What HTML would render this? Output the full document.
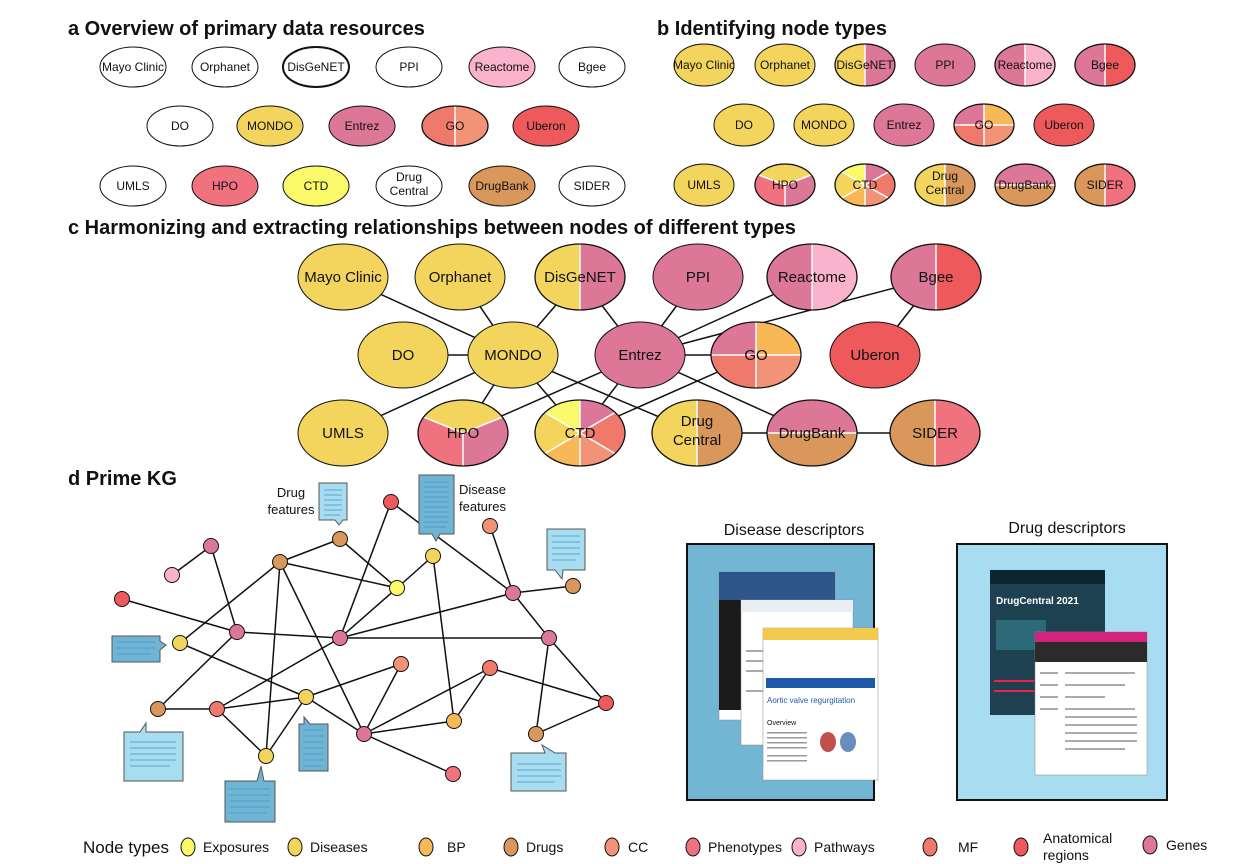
<!DOCTYPE html>
<html><head><meta charset="utf-8"><style>
html,body{margin:0;padding:0;background:#fff}
svg{display:block}
text{font-family:"Liberation Sans",Arial,sans-serif;fill:#111}
.t{font-weight:bold;font-size:20px}
.n{stroke:#111;stroke-width:1}
.w{stroke:#fff;stroke-width:1.5;vector-effect:non-scaling-stroke;fill:none}
.o{fill:none;stroke:#111;stroke-width:1.3;vector-effect:non-scaling-stroke}
.e line{stroke:#111;stroke-width:1.5}
</style></head><body>
<svg width="1259" height="864" viewBox="0 0 1259 864" xmlns="http://www.w3.org/2000/svg">
<defs>
<clipPath id="u"><circle cx="0" cy="0" r="1"/></clipPath>
</defs>
<!-- titles -->
<text class="t" x="68" y="35">a Overview of primary data resources</text>
<text class="t" x="657" y="35">b Identifying node types</text>
<text class="t" x="68" y="234">c Harmonizing and extracting relationships between nodes of different types</text>
<text class="t" x="68" y="485">d Prime KG</text>

<!-- Panel a -->
<g font-size="12" text-anchor="middle">
<g class="n" fill="#fff">
<ellipse cx="133" cy="67" rx="33" ry="20"/><ellipse cx="225" cy="67" rx="33" ry="20"/><ellipse cx="316" cy="67" rx="33" ry="20" stroke-width="2"/><ellipse cx="409" cy="67" rx="33" ry="20"/><ellipse cx="502" cy="67" rx="33" ry="20" fill="#fbb2cc"/><ellipse cx="592" cy="67" rx="33" ry="20"/>
<ellipse cx="180" cy="126" rx="33" ry="20"/><ellipse cx="270" cy="126" rx="33" ry="20" fill="#f3d55e"/><ellipse cx="362" cy="126" rx="33" ry="20" fill="#dd7798"/><ellipse cx="546" cy="126" rx="33" ry="20" fill="#ee5a5b"/>
<ellipse cx="133" cy="186" rx="33" ry="20"/><ellipse cx="225" cy="186" rx="33" ry="20" fill="#f1727f"/><ellipse cx="316" cy="186" rx="33" ry="20" fill="#f9f96a"/><ellipse cx="409" cy="186" rx="33" ry="20"/><ellipse cx="502" cy="186" rx="33" ry="20" fill="#d9975c"/><ellipse cx="592" cy="186" rx="33" ry="20"/>
</g>
<g transform="translate(455,126) scale(33,20)"><g clip-path="url(#u)"><rect x="-2" y="-2" width="2" height="4" fill="#ef7a6c"/><rect x="0" y="-2" width="2" height="4" fill="#f29378"/></g><line class="w" x1="0" y1="-1" x2="0" y2="1"/><circle r="1" class="o"/></g>
<text x="133" y="71">Mayo Clinic</text><text x="225" y="71">Orphanet</text><text x="316" y="71">DisGeNET</text><text x="409" y="71">PPI</text><text x="502" y="71">Reactome</text><text x="592" y="71">Bgee</text>
<text x="180" y="130">DO</text><text x="270" y="130">MONDO</text><text x="362" y="130">Entrez</text><text x="455" y="130">GO</text><text x="546" y="130">Uberon</text>
<text x="133" y="190">UMLS</text><text x="225" y="190">HPO</text><text x="316" y="190">CTD</text><text x="409" y="181">Drug</text><text x="409" y="195">Central</text><text x="502" y="190">DrugBank</text><text x="592" y="190">SIDER</text>
</g>

<!-- Panel b -->
<g font-size="12" text-anchor="middle">
<g class="n">
<ellipse cx="704" cy="65" rx="30" ry="21" fill="#f3d55e"/><ellipse cx="785" cy="65" rx="30" ry="21" fill="#f3d55e"/><ellipse cx="945" cy="65" rx="30" ry="21" fill="#dd7798"/>
<ellipse cx="744" cy="125" rx="30" ry="21" fill="#f3d55e"/><ellipse cx="824" cy="125" rx="30" ry="21" fill="#f3d55e"/><ellipse cx="904" cy="125" rx="30" ry="21" fill="#dd7798"/><ellipse cx="1064" cy="125" rx="30" ry="21" fill="#ee5a5b"/>
<ellipse cx="704" cy="185" rx="30" ry="21" fill="#f3d55e"/>
</g>
<!-- DisGeNET -->
<g transform="translate(865,65) scale(30,21)"><g clip-path="url(#u)"><rect x="-2" y="-2" width="2" height="4" fill="#f3d55e"/><rect x="0" y="-2" width="2" height="4" fill="#dd7798"/></g><line class="w" x1="0" y1="-1" x2="0" y2="1"/><circle r="1" class="o"/></g>
<g transform="translate(1025,65) scale(30,21)"><g clip-path="url(#u)"><rect x="-2" y="-2" width="2" height="4" fill="#dd7798"/><rect x="0" y="-2" width="2" height="4" fill="#fbb2cc"/></g><line class="w" x1="0" y1="-1" x2="0" y2="1"/><circle r="1" class="o"/></g>
<g transform="translate(1105,65) scale(30,21)"><g clip-path="url(#u)"><rect x="-2" y="-2" width="2" height="4" fill="#dd7798"/><rect x="0" y="-2" width="2" height="4" fill="#ee5a5b"/></g><line class="w" x1="0" y1="-1" x2="0" y2="1"/><circle r="1" class="o"/></g>
<g transform="translate(984,125) scale(30,21)"><g clip-path="url(#u)"><rect x="-2" y="-2" width="2" height="2" fill="#dd7798"/><rect x="0" y="-2" width="2" height="2" fill="#f8b857"/><rect x="-2" y="0" width="2" height="2" fill="#ef7a6c"/><rect x="0" y="0" width="2" height="2" fill="#f29378"/></g><line class="w" x1="0" y1="-1" x2="0" y2="1"/><line class="w" x1="-1" y1="0" x2="1" y2="0"/><circle r="1" class="o"/></g>
<g transform="translate(785,185) scale(30,21)"><g clip-path="url(#u)"><polygon points="0,0 -2,-1.1 -2,-2 2,-2 2,-1.1" fill="#f3d55e"/><polygon points="0,0 -2,-1.1 -2,2 0,2" fill="#f1727f"/><polygon points="0,0 0,2 2,2 2,-1.1" fill="#dd7798"/><line class="w" x1="0" y1="0" x2="-2" y2="-1.1"/><line class="w" x1="0" y1="0" x2="2" y2="-1.1"/><line class="w" x1="0" y1="0" x2="0" y2="2"/></g><circle r="1" class="o"/></g>
<g transform="translate(865,185) scale(30,21)"><g clip-path="url(#u)"><polygon points="0,0 0,-2 -2,-2 -2,-1.6" fill="#f9f96a"/><polygon points="0,0 0,-2 2,-2 2,-1.6" fill="#dd7798"/><polygon points="0,0 -2,-1.6 -2,1.6" fill="#f3d55e"/><polygon points="0,0 2,-1.6 2,1.6" fill="#ef7a6c"/><polygon points="0,0 -2,1.6 -2,2 0,2" fill="#f8b857"/><polygon points="0,0 2,1.6 2,2 0,2" fill="#f29378"/><line class="w" x1="0" y1="-2" x2="0" y2="2"/><line class="w" x1="-2" y1="-1.6" x2="2" y2="1.6"/><line class="w" x1="2" y1="-1.6" x2="-2" y2="1.6"/></g><circle r="1" class="o"/></g>
<g transform="translate(945,185) scale(30,21)"><g clip-path="url(#u)"><rect x="-2" y="-2" width="2" height="4" fill="#f3d55e"/><rect x="0" y="-2" width="2" height="4" fill="#d9975c"/></g><line class="w" x1="0" y1="-1" x2="0" y2="1"/><circle r="1" class="o"/></g>
<g transform="translate(1025,185) scale(30,21)"><g clip-path="url(#u)"><rect x="-2" y="-2" width="4" height="2" fill="#dd7798"/><rect x="-2" y="0" width="4" height="2" fill="#d9975c"/></g><line class="w" x1="-1" y1="0" x2="1" y2="0"/><circle r="1" class="o"/></g>
<g transform="translate(1105,185) scale(30,21)"><g clip-path="url(#u)"><rect x="-2" y="-2" width="2" height="4" fill="#d9975c"/><rect x="0" y="-2" width="2" height="4" fill="#f1727f"/></g><line class="w" x1="0" y1="-1" x2="0" y2="1"/><circle r="1" class="o"/></g>
<text x="704" y="69">Mayo Clinic</text><text x="785" y="69">Orphanet</text><text x="865" y="69">DisGeNET</text><text x="945" y="69">PPI</text><text x="1025" y="69">Reactome</text><text x="1105" y="69">Bgee</text>
<text x="744" y="129">DO</text><text x="824" y="129">MONDO</text><text x="904" y="129">Entrez</text><text x="984" y="129">GO</text><text x="1064" y="129">Uberon</text>
<text x="704" y="189">UMLS</text><text x="785" y="189">HPO</text><text x="865" y="189">CTD</text><text x="945" y="180">Drug</text><text x="945" y="194">Central</text><text x="1025" y="189">DrugBank</text><text x="1105" y="189">SIDER</text>
</g>

<!-- Panel c edges -->
<g class="e">
<line x1="343" y1="277" x2="513" y2="355"/><line x1="460" y1="277" x2="513" y2="355"/><line x1="580" y1="277" x2="513" y2="355"/><line x1="580" y1="277" x2="640" y2="355"/>
<line x1="698" y1="277" x2="640" y2="355"/><line x1="812" y1="277" x2="640" y2="355"/><line x1="936" y1="277" x2="640" y2="355"/><line x1="936" y1="277" x2="875" y2="355"/>
<line x1="403" y1="355" x2="513" y2="355"/><line x1="640" y1="355" x2="756" y2="355"/>
<line x1="513" y1="355" x2="343" y2="433"/><line x1="513" y1="355" x2="463" y2="433"/><line x1="513" y1="355" x2="580" y2="433"/><line x1="513" y1="355" x2="697" y2="433"/>
<line x1="640" y1="355" x2="463" y2="433"/><line x1="640" y1="355" x2="580" y2="433"/><line x1="640" y1="355" x2="812" y2="433"/><line x1="756" y1="355" x2="580" y2="433"/>
<line x1="697" y1="433" x2="935" y2="433"/>
</g>
<!-- Panel c nodes -->
<g font-size="15" text-anchor="middle">
<g class="n" stroke-width="1.3">
<ellipse cx="343" cy="277" rx="45" ry="33" fill="#f3d55e"/><ellipse cx="460" cy="277" rx="45" ry="33" fill="#f3d55e"/><ellipse cx="698" cy="277" rx="45" ry="33" fill="#dd7798"/>
<ellipse cx="403" cy="355" rx="45" ry="33" fill="#f3d55e"/><ellipse cx="513" cy="355" rx="45" ry="33" fill="#f3d55e"/><ellipse cx="640" cy="355" rx="45" ry="33" fill="#dd7798"/><ellipse cx="875" cy="355" rx="45" ry="33" fill="#ee5a5b"/>
<ellipse cx="343" cy="433" rx="45" ry="33" fill="#f3d55e"/>
</g>
<g transform="translate(580,277) scale(45,33)"><g clip-path="url(#u)"><rect x="-2" y="-2" width="2" height="4" fill="#f3d55e"/><rect x="0" y="-2" width="2" height="4" fill="#dd7798"/></g><line class="w" x1="0" y1="-1" x2="0" y2="1"/><circle r="1" class="o"/></g>
<g transform="translate(812,277) scale(45,33)"><g clip-path="url(#u)"><rect x="-2" y="-2" width="2" height="4" fill="#dd7798"/><rect x="0" y="-2" width="2" height="4" fill="#fbb2cc"/></g><line class="w" x1="0" y1="-1" x2="0" y2="1"/><circle r="1" class="o"/></g>
<g transform="translate(936,277) scale(45,33)"><g clip-path="url(#u)"><rect x="-2" y="-2" width="2" height="4" fill="#dd7798"/><rect x="0" y="-2" width="2" height="4" fill="#ee5a5b"/></g><line class="w" x1="0" y1="-1" x2="0" y2="1"/><circle r="1" class="o"/></g>
<g transform="translate(756,355) scale(45,33)"><g clip-path="url(#u)"><rect x="-2" y="-2" width="2" height="2" fill="#dd7798"/><rect x="0" y="-2" width="2" height="2" fill="#f8b857"/><rect x="-2" y="0" width="2" height="2" fill="#ef7a6c"/><rect x="0" y="0" width="2" height="2" fill="#f29378"/></g><line class="w" x1="0" y1="-1" x2="0" y2="1"/><line class="w" x1="-1" y1="0" x2="1" y2="0"/><circle r="1" class="o"/></g>
<g transform="translate(463,433) scale(45,33)"><g clip-path="url(#u)"><polygon points="0,0 -2,-1.1 -2,-2 2,-2 2,-1.1" fill="#f3d55e"/><polygon points="0,0 -2,-1.1 -2,2 0,2" fill="#f1727f"/><polygon points="0,0 0,2 2,2 2,-1.1" fill="#dd7798"/><line class="w" x1="0" y1="0" x2="-2" y2="-1.1"/><line class="w" x1="0" y1="0" x2="2" y2="-1.1"/><line class="w" x1="0" y1="0" x2="0" y2="2"/></g><circle r="1" class="o"/></g>
<g transform="translate(580,433) scale(45,33)"><g clip-path="url(#u)"><polygon points="0,0 0,-2 -2,-2 -2,-1.6" fill="#f9f96a"/><polygon points="0,0 0,-2 2,-2 2,-1.6" fill="#dd7798"/><polygon points="0,0 -2,-1.6 -2,1.6" fill="#f3d55e"/><polygon points="0,0 2,-1.6 2,1.6" fill="#ef7a6c"/><polygon points="0,0 -2,1.6 -2,2 0,2" fill="#f8b857"/><polygon points="0,0 2,1.6 2,2 0,2" fill="#f29378"/><line class="w" x1="0" y1="-2" x2="0" y2="2"/><line class="w" x1="-2" y1="-1.6" x2="2" y2="1.6"/><line class="w" x1="2" y1="-1.6" x2="-2" y2="1.6"/></g><circle r="1" class="o"/></g>
<g transform="translate(697,433) scale(45,33)"><g clip-path="url(#u)"><rect x="-2" y="-2" width="2" height="4" fill="#f3d55e"/><rect x="0" y="-2" width="2" height="4" fill="#d9975c"/></g><line class="w" x1="0" y1="-1" x2="0" y2="1"/><circle r="1" class="o"/></g>
<g transform="translate(812,433) scale(45,33)"><g clip-path="url(#u)"><rect x="-2" y="-2" width="4" height="2" fill="#dd7798"/><rect x="-2" y="0" width="4" height="2" fill="#d9975c"/></g><line class="w" x1="-1" y1="0" x2="1" y2="0"/><circle r="1" class="o"/></g>
<g transform="translate(935,433) scale(45,33)"><g clip-path="url(#u)"><rect x="-2" y="-2" width="2" height="4" fill="#d9975c"/><rect x="0" y="-2" width="2" height="4" fill="#f1727f"/></g><line class="w" x1="0" y1="-1" x2="0" y2="1"/><circle r="1" class="o"/></g>
<text x="343" y="282">Mayo Clinic</text><text x="460" y="282">Orphanet</text><text x="580" y="282">DisGeNET</text><text x="698" y="282">PPI</text><text x="812" y="282">Reactome</text><text x="936" y="282">Bgee</text>
<text x="403" y="360">DO</text><text x="513" y="360">MONDO</text><text x="640" y="360">Entrez</text><text x="756" y="360">GO</text><text x="875" y="360">Uberon</text>
<text x="343" y="438">UMLS</text><text x="463" y="438">HPO</text><text x="580" y="438">CTD</text><text x="697" y="426">Drug</text><text x="697" y="445">Central</text><text x="812" y="438">DrugBank</text><text x="935" y="438">SIDER</text>
</g>

<!-- Panel d edges -->
<g class="e">
<line x1="172" y1="575" x2="211" y2="546"/><line x1="211" y1="546" x2="237" y2="632"/><line x1="122" y1="599" x2="237" y2="632"/><line x1="237" y1="632" x2="340" y2="638"/><line x1="237" y1="632" x2="158" y2="709"/>
<line x1="180" y1="643" x2="280" y2="562"/><line x1="180" y1="643" x2="306" y2="697"/><line x1="306" y1="697" x2="364" y2="734"/>
<line x1="280" y1="562" x2="340" y2="539"/><line x1="280" y1="562" x2="397" y2="588"/><line x1="280" y1="562" x2="266" y2="756"/><line x1="280" y1="562" x2="364" y2="734"/>
<line x1="340" y1="539" x2="397" y2="588"/><line x1="397" y1="588" x2="433" y2="556"/><line x1="397" y1="588" x2="340" y2="638"/><line x1="391" y1="502" x2="340" y2="638"/><line x1="391" y1="502" x2="513" y2="593"/>
<line x1="433" y1="556" x2="454" y2="721"/><line x1="490" y1="526" x2="513" y2="593"/><line x1="513" y1="593" x2="573" y2="586"/><line x1="513" y1="593" x2="340" y2="638"/>
<line x1="340" y1="638" x2="549" y2="638"/><line x1="340" y1="638" x2="217" y2="709"/><line x1="513" y1="593" x2="549" y2="638"/><line x1="549" y1="638" x2="606" y2="703"/><line x1="549" y1="638" x2="536" y2="734"/><line x1="536" y1="734" x2="606" y2="703"/>
<line x1="158" y1="709" x2="217" y2="709"/><line x1="217" y1="709" x2="306" y2="697"/><line x1="217" y1="709" x2="266" y2="756"/><line x1="266" y1="756" x2="306" y2="697"/><line x1="306" y1="697" x2="401" y2="664"/><line x1="401" y1="664" x2="364" y2="734"/>
<line x1="364" y1="734" x2="490" y2="668"/><line x1="364" y1="734" x2="454" y2="721"/><line x1="454" y1="721" x2="490" y2="668"/><line x1="490" y1="668" x2="606" y2="703"/><line x1="364" y1="734" x2="453" y2="774"/>
</g>
<!-- doc boxes -->
<g stroke="#555" stroke-width="1">
<path d="M319,483 H347 V520 H343 L339,525 L335,520 H319 Z" fill="#a8dcf0"/>
<path d="M419,475 H454 V534 H440 L436,541 L432,534 H419 Z" fill="#70b4d4"/>
<path d="M547,529 H585 V570 H563 L562,579 L555,570 H547 Z" fill="#a8dcf0"/>
<path d="M112,636 H160 V641 L166,645 L160,650 V662 H112 Z" fill="#70b4d4"/>
<path d="M124,732 H140 L146,723 V732 H183 V781 H124 Z" fill="#a8dcf0"/>
<path d="M299,724 H304 V717 L310,724 H328 V771 H299 Z" fill="#70b4d4"/>
<path d="M225,781 H257 L261,766 L264,781 H275 V822 H225 Z" fill="#70b4d4"/>
<path d="M511,753 H545 L542,745 L555,753 H566 V791 H511 Z" fill="#a8dcf0"/>
</g>
<g stroke="#3a95c6" stroke-width="0.8">
<path d="M324,490h18M324,495h18M324,500h18M324,505h18M324,510h18M324,515h16"/>
<path d="M424,482h25M424,487h25M424,492h25M424,497h25M424,502h25M424,507h25M424,512h25M424,517h25M424,522h25M424,527h22"/>
<path d="M552,536h28M552,542h28M552,548h28M552,554h28M552,560h24"/>
<path d="M117,642h38M117,648h38M117,654h34"/>
<path d="M130,742h46M130,748h46M130,754h46M130,760h46M130,766h40"/>
<path d="M303,730h20M303,736h20M303,742h20M303,748h20M303,754h20M303,760h20M303,766h18"/>
<path d="M230,789h40M230,795h40M230,801h40M230,807h40M230,813h36"/>
<path d="M517,764h44M517,770h44M517,776h44M517,782h38"/>
</g>
<!-- panel d nodes -->
<g class="n">
<circle cx="211" cy="546" r="7.5" fill="#dd7798"/><circle cx="172" cy="575" r="7.5" fill="#fbb2cc"/><circle cx="122" cy="599" r="7.5" fill="#ee5a5b"/>
<circle cx="237" cy="632" r="7.5" fill="#dd7798"/><circle cx="180" cy="643" r="7.5" fill="#f3d55e"/><circle cx="158" cy="709" r="7.5" fill="#d9975c"/>
<circle cx="217" cy="709" r="7.5" fill="#ef7a6c"/><circle cx="266" cy="756" r="7.5" fill="#f3d55e"/><circle cx="280" cy="562" r="7.5" fill="#d9975c"/>
<circle cx="340" cy="539" r="7.5" fill="#d9975c"/><circle cx="397" cy="588" r="7.5" fill="#f9f96a"/><circle cx="433" cy="556" r="7.5" fill="#f3d55e"/>
<circle cx="391" cy="502" r="7.5" fill="#ee5a5b"/><circle cx="490" cy="526" r="7.5" fill="#f29378"/><circle cx="513" cy="593" r="7.5" fill="#dd7798"/>
<circle cx="573" cy="586" r="7.5" fill="#d9975c"/><circle cx="340" cy="638" r="7.5" fill="#dd7798"/><circle cx="549" cy="638" r="7.5" fill="#dd7798"/>
<circle cx="401" cy="664" r="7.5" fill="#f29378"/><circle cx="490" cy="668" r="7.5" fill="#ef7a6c"/><circle cx="306" cy="697" r="7.5" fill="#f3d55e"/>
<circle cx="454" cy="721" r="7.5" fill="#f8b857"/><circle cx="606" cy="703" r="7.5" fill="#ee5a5b"/><circle cx="364" cy="734" r="7.5" fill="#dd7798"/>
<circle cx="536" cy="734" r="7.5" fill="#d9975c"/><circle cx="453" cy="774" r="7.5" fill="#f1727f"/>
</g>
<g font-size="13" text-anchor="middle"><text x="291" y="497">Drug</text><text x="291" y="514">features</text></g>
<g font-size="13"><text x="459" y="494">Disease</text><text x="459" y="511">features</text></g>

<!-- Descriptors -->
<g font-size="16" text-anchor="middle"><text x="794" y="535">Disease descriptors</text><text x="1067" y="533">Drug descriptors</text></g>
<rect x="687" y="544" width="187" height="256" fill="#72b6d4" stroke="#111" stroke-width="2"/>
<rect x="957" y="544" width="210" height="256" fill="#a8dcf0" stroke="#111" stroke-width="2"/>
<!-- disease screenshots -->
<rect x="719" y="572" width="116" height="148" fill="#fff" stroke="#888" stroke-width="0.5"/>
<rect x="719" y="572" width="116" height="28" fill="#2f568a"/>
<rect x="719" y="600" width="30" height="110" fill="#1b1b1b"/>
<rect x="741" y="600" width="112" height="145" fill="#fff" stroke="#888" stroke-width="0.5"/>
<rect x="741" y="600" width="112" height="12" fill="#e8eef4"/>
<g fill="#aaa"><rect x="746" y="650" width="20" height="2"/><rect x="746" y="660" width="18" height="2"/><rect x="746" y="670" width="20" height="2"/><rect x="746" y="690" width="18" height="2"/></g>
<rect x="763" y="628" width="115" height="152" fill="#fff" stroke="#888" stroke-width="0.5"/>
<rect x="763" y="628" width="115" height="12" fill="#f2c94c"/>
<rect x="766" y="678" width="109" height="10" fill="#1f5aa8"/>
<text x="767" y="703" font-size="8" text-anchor="start" fill="#1f5aa8" style="fill:#1f5aa8">Aortic valve regurgitation</text>
<text x="767" y="725" font-size="7" text-anchor="start">Overview</text>
<g fill="#999"><rect x="767" y="732" width="40" height="1.5"/><rect x="767" y="737" width="40" height="1.5"/><rect x="767" y="742" width="40" height="1.5"/><rect x="767" y="747" width="40" height="1.5"/><rect x="767" y="755" width="40" height="1.5"/><rect x="767" y="760" width="40" height="1.5"/></g>
<ellipse cx="828" cy="742" rx="8" ry="10" fill="#c0504d"/><ellipse cx="848" cy="742" rx="8" ry="10" fill="#6a8cbf"/>
<!-- drug screenshots -->
<rect x="990" y="570" width="115" height="145" fill="#1d4150"/>
<rect x="990" y="570" width="115" height="14" fill="#0d2530"/>
<text x="996" y="604" font-size="10" text-anchor="start" style="fill:#fff;font-weight:bold">DrugCentral 2021</text>
<rect x="996" y="620" width="50" height="30" fill="#2c6a78"/>
<rect x="994" y="680" width="40" height="2" fill="#e24"/>
<rect x="994" y="690" width="40" height="2" fill="#e24"/>
<rect x="1035" y="632" width="112" height="143" fill="#fff" stroke="#888" stroke-width="0.5"/>
<rect x="1035" y="632" width="112" height="10" fill="#d4237f"/>
<rect x="1035" y="642" width="112" height="20" fill="#2b2b2b"/>
<g fill="#aaa"><rect x="1040" y="672" width="18" height="2"/><rect x="1065" y="672" width="70" height="2"/><rect x="1040" y="684" width="18" height="2"/><rect x="1065" y="684" width="60" height="2"/><rect x="1040" y="696" width="18" height="2"/><rect x="1065" y="696" width="40" height="2"/><rect x="1040" y="708" width="18" height="2"/><rect x="1065" y="708" width="70" height="2"/><rect x="1065" y="716" width="72" height="2"/><rect x="1065" y="724" width="72" height="2"/><rect x="1065" y="732" width="72" height="2"/><rect x="1065" y="740" width="72" height="2"/><rect x="1065" y="748" width="60" height="2"/></g>

<!-- legend -->
<g font-size="14">
<text x="83" y="853" font-size="17">Node types</text>
<g class="n">
<ellipse cx="188" cy="847" rx="7" ry="9" fill="#f9f96a"/>
<ellipse cx="295" cy="847" rx="7" ry="9" fill="#f3d55e"/>
<ellipse cx="426" cy="847" rx="7" ry="9" fill="#f8b857"/>
<ellipse cx="511" cy="847" rx="7" ry="9" fill="#d9975c"/>
<ellipse cx="612" cy="847" rx="7" ry="9" fill="#f29378"/>
<ellipse cx="693" cy="847" rx="7" ry="9" fill="#f1727f"/>
<ellipse cx="799" cy="847" rx="7" ry="9" fill="#fbb2cc"/>
<ellipse cx="930" cy="847" rx="7" ry="9" fill="#ef7a6c"/>
<ellipse cx="1021" cy="847" rx="7" ry="9" fill="#ee5a5b"/>
<ellipse cx="1150" cy="845" rx="7" ry="9" fill="#dd7798"/>
</g>
<text x="203" y="852">Exposures</text><text x="310" y="852">Diseases</text><text x="447" y="852">BP</text><text x="526" y="852">Drugs</text><text x="628" y="852">CC</text><text x="708" y="852">Phenotypes</text><text x="814" y="852">Pathways</text><text x="958" y="852">MF</text><text x="1043" y="843">Anatomical</text><text x="1043" y="860">regions</text><text x="1166" y="850">Genes</text>
</g>
</svg>
</body></html>
